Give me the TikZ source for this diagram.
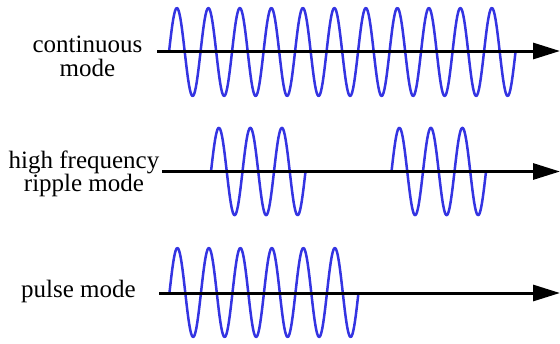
\documentclass[tikz,border=0pt]{standalone}
\usepackage{fontspec}
\setmainfont{Liberation Serif}
\usepackage{tikz}
\usepackage{xcolor}
\usetikzlibrary{arrows.meta,positioning}
\definecolor{WaveBlue}{HTML}{3434E2}

\begin{document}
\begin{tikzpicture}[
  x=1pt,y=-1pt,
  label/.style={align=center,anchor=base,inner sep=0pt,font=\fontsize{25}{23.8}\selectfont},
  axis/.style={-{Triangle[length=27pt,width=16pt]},line width=3pt,draw=black},
  wave/.style={draw=WaveBlue,line width=2.5pt,line join=round}
]
\useasboundingbox (0,0) rectangle (560,343);
% mode labels (base = last line)
\node[label] (cont) at (87.5,76.7) {continuous\\mode};
\node[label] (ripple) at (84,191.9) {high frequency\\ripple mode};
\node[label] (pulse) at (78.5,297) {pulse mode};
% time axes
\coordinate (c0) at (157,51);
\coordinate (c1) at (560,51);
\coordinate (r0) at (162,171.5);
\coordinate (r1) at (560,171.5);
\coordinate (p0) at (159,293);
\coordinate (p1) at (560,293);
% waves (period 31.5pt -> 11.4286 deg per pt)
\draw[wave] plot[domain=169:515.5,samples=400] (\x,{52-44*sin(11.4286*(\x-169))});
\foreach \s in {211,391.5}
  \draw[wave] plot[domain=\s:\s+94.5,samples=120] (\x,{171.5-43.7*sin(11.4286*(\x-\s))});
\draw[wave] plot[domain=169.5:358.5,samples=220] (\x,{292.5-44.5*sin(11.4286*(\x-169.5))});
\draw[axis] (c0) -- (c1);
\draw[axis] (r0) -- (r1);
\draw[axis] (p0) -- (p1);
\end{tikzpicture}
\end{document}
